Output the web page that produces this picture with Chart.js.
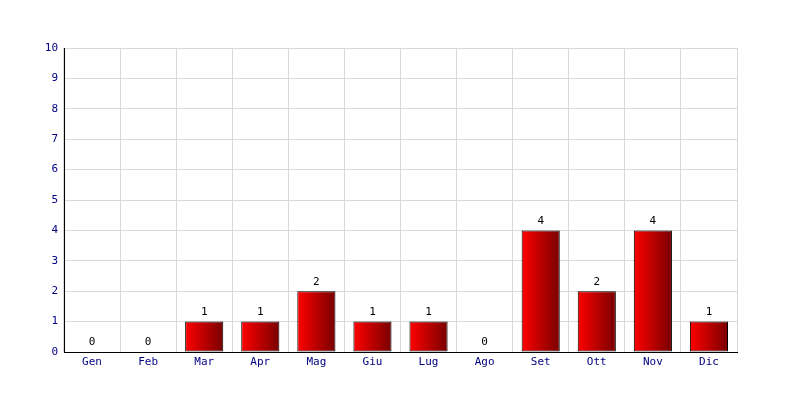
<!DOCTYPE html>
<html lang="it">
  <head>
    <meta charset="UTF-8" />
    <title>Grafico mensile</title>
    <script src="https://cdn.jsdelivr.net/npm/chart.js"></script>
    <style>
      body { margin: 0; background: #fff; }
      #wrap { width: 800px; height: 400px; }
    </style>
  </head>
  <body>
    <div id="wrap"><canvas id="chart"></canvas></div>

    <script>
      const mesi = ["Gen", "Feb", "Mar", "Apr", "Mag", "Giu", "Lug", "Ago", "Set", "Ott", "Nov", "Dic"];
      const valori = [0, 0, 1, 1, 2, 1, 1, 0, 4, 2, 4, 1];
      const tickY = [0, 1, 2, 3, 4, 5, 6, 7, 8, 9, 10];

      const FONT = "'DejaVu Sans Mono', monospace";
      const BAR_PCT = 0.68;

      // gradiente orizzontale rosso -> rosso scuro su ogni barra
      function barGradient(context) {
        const chart = context.chart;
        const xs = chart.scales && chart.scales.x;
        if (!chart.chartArea || !xs || context.dataIndex === undefined) return "#d00000";
        const cx = xs.getPixelForValue(context.dataIndex);
        const w = (xs.width / mesi.length) * BAR_PCT;
        const g = chart.ctx.createLinearGradient(cx - w / 2, 0, cx + w / 2, 0);
        g.addColorStop(0, "#ff0000");
        g.addColorStop(1, "#780000");
        return g;
      }

      // valori sopra le barre
      const valueLabels = {
        id: "valueLabels",
        afterDatasetsDraw(chart) {
          const ctx = chart.ctx;
          const meta = chart.getDatasetMeta(0);
          ctx.save();
          ctx.font = "11px " + FONT;
          ctx.fillStyle = "#000";
          ctx.textAlign = "center";
          ctx.textBaseline = "bottom";
          meta.data.forEach((bar, i) => {
            ctx.fillText(String(valori[i]), bar.x, bar.y - 4);
          });
          ctx.restore();
        },
      };

      new Chart(document.getElementById("chart"), {
        type: "bar",
        data: {
          labels: mesi,
          datasets: [
            {
              data: valori,
              backgroundColor: barGradient,
              borderColor: "#000",
              borderWidth: 1,
              borderSkipped: false,
              barPercentage: BAR_PCT,
              categoryPercentage: 1,
            },
          ],
        },
        options: {
          responsive: true,
          maintainAspectRatio: false,
          animation: false,
          layout: { padding: { top: 48, right: 63, left: 0, bottom: 0 } },
          plugins: { legend: { display: false }, tooltip: { enabled: false } },
          scales: {
            x: {
              afterFit(s) { s.height = 48; },
              grid: { color: "#d8d8d8", drawTicks: false, offset: true },
              border: { color: "#000", width: 1 },
              ticks: { color: "#000080", font: { family: FONT, size: 11 }, padding: 4 },
            },
            y: {
              min: 0,
              max: 10,
              afterFit(s) { s.width = 64; },
              afterBuildTicks(s) { s.ticks = tickY.map((v) => ({ value: v })); },
              grid: { color: "#d8d8d8", drawTicks: false },
              border: { color: "#000", width: 1 },
              ticks: { color: "#000080", font: { family: FONT, size: 11 }, padding: 6 },
            },
          },
        },
        plugins: [valueLabels],
      });
    </script>
  </body>
</html>
